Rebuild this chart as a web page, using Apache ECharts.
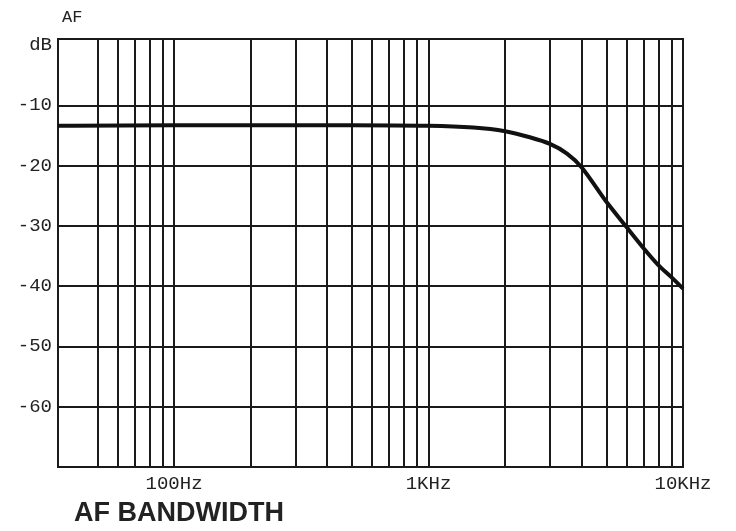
<!DOCTYPE html>
<html>
<head>
<meta charset="utf-8">
<script src="https://cdn.jsdelivr.net/npm/echarts@6/dist/echarts.min.js"></script>
<style>
  html, body { margin: 0; padding: 0; background: #fff; }
  #chart { width: 736px; height: 531px; }
</style>
</head>
<body>
<div id="chart"></div>
<script>
// frequency response (Hz, dB)
var freqHz = [35, 40, 100, 200, 500, 1000, 1500, 2000, 2500, 3000, 3500, 4000, 5000, 6000, 7000, 8000, 9000, 10000];
var levelDb = [-13.4, -13.4, -13.3, -13.3, -13.3, -13.4, -13.7, -14.3, -15.3, -16.4, -18.0, -20.3, -26.0, -30.2, -33.7, -36.5, -38.5, -40.4];

// graph paper lines
var xGridHz = [50, 60, 70, 80, 90, 100, 200, 300, 400, 500, 600, 700, 800, 900,
               1000, 2000, 3000, 4000, 5000, 6000, 7000, 8000, 9000];
var yGridDb = [-10, -20, -30, -40, -50, -60];
var xTickLabels = { 100: '100Hz', 1000: '1KHz', 10000: '10KHz' };

var chart = echarts.init(document.getElementById('chart'));
var monoFont = '"Liberation Mono", "DejaVu Sans Mono", monospace';
var ink = '#1a1a1a';

var points = freqHz.map(function (f, i) { return [f, levelDb[i]]; });

chart.setOption({
  animation: false,
  backgroundColor: '#fff',
  title: {
    text: 'AF BANDWIDTH',
    left: 69,
    top: 495,
    textStyle: { fontFamily: '"Liberation Sans", Arial, sans-serif', fontWeight: 'bold', fontSize: 27, color: '#222' }
  },
  graphic: [{
    type: 'text', left: 62, top: 9,
    style: { text: 'AF', font: '17px ' + monoFont, fill: '#222' }
  }],
  grid: {
    left: 58, right: 53, top: 39, bottom: 64,
    show: true, borderColor: ink, borderWidth: 2, backgroundColor: 'transparent'
  },
  xAxis: {
    type: 'log',
    logBase: 10,
    min: 35,
    max: 10000,
    axisLine: { show: false },
    axisTick: { show: false },
    splitLine: { show: false },
    axisLabel: {
      margin: 7,
      fontFamily: monoFont, fontSize: 19, color: '#222',
      formatter: function (v) { return xTickLabels[Math.round(v)] || ''; }
    }
  },
  yAxis: {
    type: 'value',
    min: -70,
    max: 1,
    interval: 10,
    axisLine: { show: false },
    axisTick: { show: false },
    splitLine: { show: false },
    axisLabel: {
      margin: 6,
      fontFamily: monoFont, fontSize: 19, color: '#222',
      formatter: function (v) {
        if (v === 0) return 'dB';
        if (v <= -10 && v >= -60) return String(v);
        return '';
      }
    }
  },
  series: [
    {
      name: 'paper',
      type: 'line',
      data: [],
      z: 1,
      silent: true,
      markLine: {
        silent: true,
        symbol: ['none', 'none'],
        label: { show: false },
        lineStyle: { color: ink, width: 2, type: 'solid' },
        data: xGridHz.map(function (f) { return { xAxis: f }; })
          .concat(yGridDb.map(function (d) { return { yAxis: d }; }))
      }
    },
    {
      name: 'AF',
      type: 'line',
      data: points,
      z: 5,
      smooth: 0.3,
      showSymbol: false,
      lineStyle: { color: '#111', width: 4 }
    }
  ]
});
</script>
</body>
</html>
